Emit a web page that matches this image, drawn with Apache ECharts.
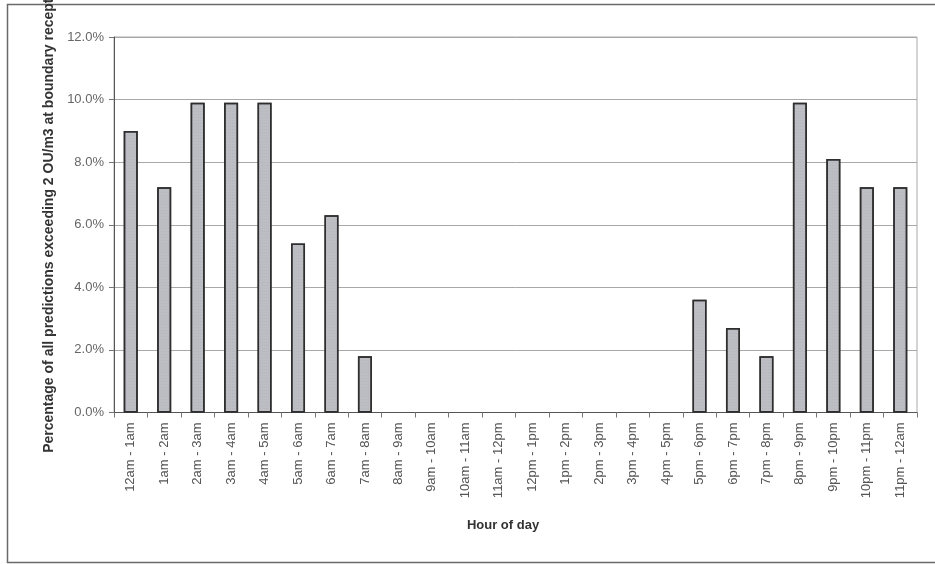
<!DOCTYPE html>
<html>
<head>
<meta charset="utf-8">
<script src="https://cdn.jsdelivr.net/npm/echarts@6/dist/echarts.min.js"></script>
<style>
html,body{margin:0;padding:0;background:#fff;}
#c{width:935px;height:564px;}
</style>
</head>
<body>
<div id="c"></div>
<script>
const categories = ['12am - 1am','1am - 2am','2am - 3am','3am - 4am','4am - 5am','5am - 6am','6am - 7am','7am - 8am','8am - 9am','9am - 10am','10am - 11am','11am - 12pm','12pm - 1pm','1pm - 2pm','2pm - 3pm','3pm - 4pm','4pm - 5pm','5pm - 6pm','6pm - 7pm','7pm - 8pm','8pm - 9pm','9pm - 10pm','10pm - 11pm','11pm - 12am'];
const values = [9.0, 7.2, 9.9, 9.9, 9.9, 5.4, 6.3, 1.8, 0, 0, 0, 0, 0, 0, 0, 0, 0, 3.6, 2.7, 1.8, 9.9, 8.1, 7.2, 7.2];
const yTicks = {min: 0, max: 12, interval: 2};
const xTitle = 'Hour of day';
const yTitle = 'Percentage of all predictions exceeding 2 OU/m3 at boundary receptors';

const chart = echarts.init(document.getElementById('c'));
chart.setOption({
  animation: false,
  backgroundColor: '#fff',
  textStyle: {fontFamily: 'Liberation Sans, Arial, sans-serif'},
  graphic: [{
    type: 'rect', z: -1,
    shape: {x: 7.5, y: 4.5, width: 940, height: 558},
    style: {fill: 'none', stroke: '#6a6a6a', lineWidth: 1.5}
  }],
  grid: {left: 114, top: 37, right: 18, bottom: 151.5, containLabel: false, outerBoundsMode: 'none', show: true, borderColor: '#aaa', borderWidth: 1, backgroundColor: 'transparent'},
  xAxis: {
    type: 'category',
    data: categories,
    name: xTitle,
    nameLocation: 'middle',
    nameGap: 106,
    nameTextStyle: {fontSize: 13, fontWeight: 'bold', color: '#333', padding: [0, 25, 0, 0]},
    axisLine: {lineStyle: {color: '#555', width: 1}},
    axisTick: {show: true, alignWithLabel: false, length: 5, lineStyle: {color: '#777'}},
    axisLabel: {rotate: 90, fontSize: 13, color: '#555', margin: 10, interval: 0}
  },
  yAxis: {
    type: 'value',
    min: yTicks.min, max: yTicks.max, interval: yTicks.interval,
    name: yTitle,
    nameLocation: 'middle',
    nameGap: 58,
    nameRotate: 90,
    nameTextStyle: {fontSize: 14, fontWeight: 'bold', color: '#333', padding: [0, 0, 0, 20]},
    axisLine: {show: true, lineStyle: {color: '#555', width: 1}},
    axisTick: {show: true, length: 5, lineStyle: {color: '#777'}},
    axisLabel: {fontSize: 13, color: '#666', margin: 10, formatter: v => v.toFixed(1) + '%'},
    splitLine: {show: true, lineStyle: {color: '#a8a8a8', width: 1}}
  },
  series: [{
    type: 'bar',
    data: values.map(v => v === 0 ? {value: v, itemStyle: {borderWidth: 0}} : v),
    barWidth: 14,
    itemStyle: {
      color: '#bdbdc4',
      borderColor: '#2e2e2e',
      borderWidth: 1.5,
      decal: {symbol: 'rect', symbolSize: 0.5, dashArrayX: [1, 1], dashArrayY: [1, 2], color: 'rgba(120,120,120,0.35)'}
    }
  }]
});
</script>
</body>
</html>
